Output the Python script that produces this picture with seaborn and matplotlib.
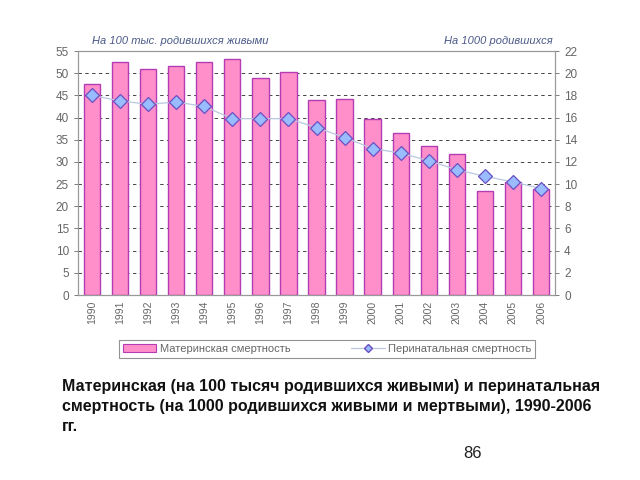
import numpy as np
import pandas as pd
import seaborn as sns
import matplotlib.pyplot as plt
from matplotlib.patches import Patch
from matplotlib.lines import Line2D

sns.set_theme(style="white")
plt.rcParams['font.family'] = ['Liberation Sans', 'DejaVu Sans']

years = [str(y) for y in range(1990, 2007)]
maternal = [47.5, 52.5, 51.0, 51.7, 52.5, 53.2, 49.0, 50.3, 44.0, 44.2,
            39.7, 36.5, 33.5, 31.8, 23.4, 25.4, 23.8]
perinatal = [18.0, 17.5, 17.2, 17.4, 17.0, 15.9, 15.9, 15.9, 15.1, 14.2,
             13.2, 12.8, 12.1, 11.3, 10.7, 10.2, 9.6]

df = pd.DataFrame({'year': years, 'maternal': maternal, 'perinatal': perinatal})

bar_color = '#FF8FCB'
bar_edge = '#B33DB3'
line_color = '#B8C8E0'
mk_face = '#99BBFF'
mk_edge = '#6A4FC0'
grey = '#666666'

fig = plt.figure(figsize=(6.4, 4.8), dpi=100)
ax = fig.add_axes([78 / 640, 1 - 295 / 480, (555 - 78) / 640, (295 - 51) / 480])

sns.barplot(data=df, x='year', y='maternal', color=bar_color, width=0.58,
            edgecolor=bar_edge, linewidth=1.0, saturation=1, ax=ax, zorder=2)
ax.set_ylim(0, 55)
ax.set_yticks(np.arange(0, 56, 5))
ax.set_xlim(-0.5, len(years) - 0.5)
ax.set_xlabel('')
ax.set_ylabel('')
ax.grid(axis='y', linestyle=(0, (3.5, 3.5)), color='#444444', linewidth=0.7, zorder=0)
ax.set_axisbelow(True)
ax.tick_params(axis='x', labelrotation=90, labelsize=7.5, colors=grey, length=0, pad=4)
ax.tick_params(axis='y', labelsize=8.5, colors=grey, length=3, direction='out', left=True, width=0.6)
for sp in ax.spines.values():
    sp.set_color('#999999')
    sp.set_linewidth(0.8)

ax2 = ax.twinx()
sns.lineplot(x=np.arange(len(years)), y=df['perinatal'], ax=ax2, color=line_color,
             linewidth=0.9, marker='D', markersize=7, markerfacecolor=mk_face,
             markeredgecolor=mk_edge, markeredgewidth=0.9, zorder=3)
ax2.set_ylim(0, 22)
ax2.set_yticks(np.arange(0, 23, 2))
ax2.set_ylabel('')
ax2.tick_params(axis='y', labelsize=8.5, colors=grey, length=3, direction='out', right=True, width=0.6)
for sp in ax2.spines.values():
    sp.set_color('#999999')
    sp.set_linewidth(0.8)

fig.text(92 / 640, 1 - 41 / 480, 'На 100 тыс. родившихся живыми', fontsize=8, style='italic',
         color='#4A5A88', va='center', ha='left')
fig.text(553 / 640, 1 - 41 / 480, 'На 1000 родившихся', fontsize=8, style='italic',
         color='#4A5A88', va='center', ha='right')

handles = [Patch(facecolor=bar_color, edgecolor=bar_edge, linewidth=0.8),
           Line2D([0], [0], color=line_color, linewidth=0.9, marker='D', markersize=4,
                  markerfacecolor=mk_face, markeredgecolor=mk_edge)]
leg = fig.legend(handles, ['Материнская смертность', 'Перинатальная смертность'],
                 loc='center', bbox_to_anchor=(327 / 640, 1 - 349 / 480), ncol=2,
                 fontsize=8, frameon=True, fancybox=False, edgecolor='#777777',
                 columnspacing=5.5, handlelength=3.0, handletextpad=0.3, borderpad=0.35)
for t in leg.get_texts():
    t.set_color(grey)
leg.get_frame().set_linewidth(0.8)

fig.text(62 / 640, 1 - 379 / 480,
         'Материнская (на 100 тысяч родившихся живыми) и перинатальная\n'
         'смертность (на 1000 родившихся живыми и мертвыми), 1990-2006\n'
         'гг.',
         fontsize=11.5, fontweight='bold', color='#111111', va='top', ha='left',
         linespacing=1.42)
fig.text(473 / 640, 1 - 453 / 480, '86', fontsize=12, color='#222222', ha='center', va='center')

fig.savefig('out.png', dpi=100, facecolor='white')
